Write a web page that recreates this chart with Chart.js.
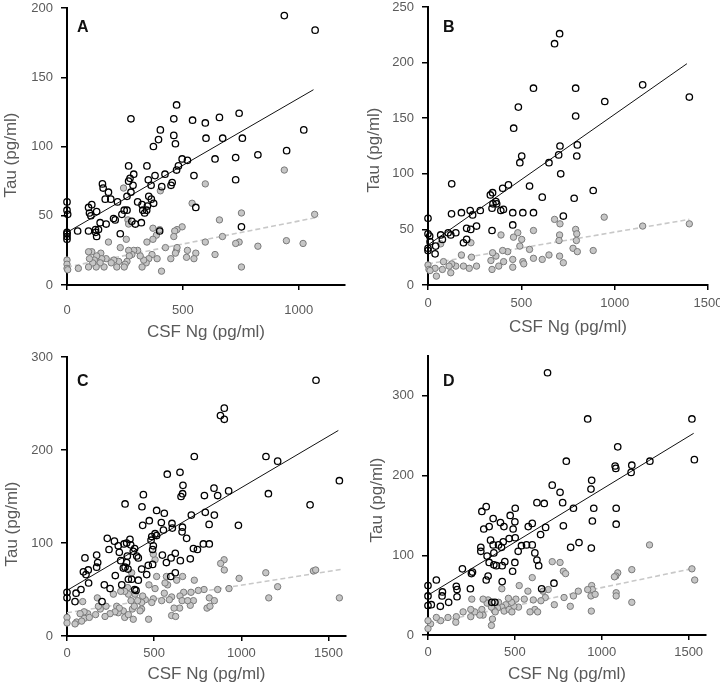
<!DOCTYPE html>
<html lang="en">
<head>
<meta charset="UTF-8">
<title>Tau vs CSF Ng</title>
<script src="https://cdn.jsdelivr.net/npm/chart.js@4.4.0/dist/chart.umd.min.js"></script>
<style>
    body { margin: 0; background: #fff; }
    .grid { display: grid; grid-template-columns: 360px 360px; grid-template-rows: 343px 343px; width: 720px; }
    canvas { display: block; }
</style>
</head>
<body>
<div class="grid">
    <canvas id="chartA" width="360" height="343"></canvas>
    <canvas id="chartB" width="360" height="343"></canvas>
    <canvas id="chartC" width="360" height="343"></canvas>
    <canvas id="chartD" width="360" height="343"></canvas>
</div>
<script>
    // [CSF Ng, Tau] pairs
    const aOpen = [[938,194.5],[1071,184],[1022,112],[948,97],[824,94],[728,92],[728,76],[753,42],[757,106],[743,124],
        [658,121],[672,106],[639,91],[597,117],[600,106],[542,119],[548,79],[556,56],[473,130],[461,120],[461,108],[468,102],
        [497,91],[520,90],[481,86],[473,83],[454,74],[449,72],[403,112],[395,105],[373,100],[423,80],[409,71],[400,39],
        [380,79],[351,76],[345,86],[363,72],[364,62],[374,59],[353,64],[347,57],[344,54],[335,52],[321,45],[305,60],
        [324,58],[327,54],[288,80],[285,72],[276,67],[266,86],[276,120],[272,77],[266,75],[259,64],[259,54],[280,46],
        [295,44],[247,54],[237,51],[230,37],[218,60],[201,48],[208,47],[189,62],[179,67],[165,62],[169,44],[153,73],
        [156,70],[143,45],[128,53],[124,38],[128,35],[123,40],[136,40],[107,58],[93,56],[97,52],[103,50],[93,39],[46,39],
        [0,60],[0,54],[3,51],[0,38],[0,35],[0,33],[0,37]];
    const aFilled = [[938,83],[1069,51],[1019,30],[947,32],[824,28],[753,52],[743,31],[728,30],[753,13],[671,35],[658,47],
        [639,22],[597,73],[597,31],[556,23],[548,19],[540,59],[520,25],[516,20],[497,42],[475,40],[465,39],[461,35],[473,25],
        [475,27],[448,19],[468,23],[403,68],[400,40],[386,36],[371,33],[371,41],[345,31],[425,27],[408,10],[389,19],[367,22],
        [353,19],[342,16],[324,13],[331,18],[316,21],[305,25],[288,25],[280,22],[266,25],[269,21],[259,17],[251,15],[247,13],
        [263,47],[244,70],[266,44],[256,33],[230,27],[223,17],[215,13],[202,18],[191,16],[179,31],[169,19],[160,13],[146,23],
        [150,19],[143,16],[128,21],[126,13],[118,18],[111,16],[107,24],[97,19],[93,13],[93,24],[49,12],[0,18],[0,15],[0,12],[3,11]];
    const aFitOpen = [[0,38],[1064,141]];
    const aFitFilled = [[0,13],[1085,49]];

    const bOpen = [[705,226],[678,217],[1150,180],[791,177],[565,177],[1400,169],[947,165],[484,160],[791,152],[459,141],
        [707,125],[800,126],[700,117],[797,116],[502,116],[492,110],[648,110],[711,100],[127,91],[431,90],[544,89],[885,85],
        [400,87],[334,81],[346,83],[364,75],[368,73],[612,79],[783,78],[404,68],[390,67],[343,69],[348,73],[280,67],[226,67],
        [179,65],[126,64],[239,63],[260,53],[454,65],[508,65],[565,65],[725,62],[454,54],[343,49],[207,51],[229,50],[190,38],
        [207,41],[149,47],[108,47],[122,45],[68,45],[77,41],[41,35],[38,28],[0,60],[0,46],[9,44],[11,39],[0,33],[0,31]];
    const bFilled = [[1400,55],[1150,53],[944,61],[885,31],[678,59],[707,55],[791,50],[797,46],[705,45],[702,40],[795,40],
        [777,33],[800,30],[705,26],[725,20],[648,27],[612,23],[565,24],[565,49],[544,32],[502,41],[492,35],[481,47],[458,43],
        [454,23],[454,16],[508,21],[513,19],[427,30],[391,45],[400,31],[405,21],[379,17],[364,26],[337,22],[343,14],[346,29],
        [260,17],[233,25],[230,38],[221,15],[190,17],[179,27],[149,17],[127,19],[122,11],[113,17],[83,21],[77,14],[68,37],
        [45,8],[38,15],[0,18],[5,14],[11,13]];
    const bFitOpen = [[0,36],[1387,199]];
    const bFitFilled = [[0,19],[1400,59]];

    const cOpen = [[1428,275],[902,245],[880,237],[902,233],[1141,193],[730,193],[1208,188],[1562,167],[648,176],[575,174],
        [1155,153],[665,162],[654,150],[663,153],[843,159],[788,151],[864,151],[927,156],[438,152],[333,142],[430,139],[1394,141],
        [514,135],[558,132],[713,130],[793,133],[845,130],[472,124],[434,119],[541,122],[602,121],[815,120],[662,117],[660,112],
        [604,116],[553,114],[983,119],[686,105],[505,110],[486,107],[514,108],[482,103],[495,97],[491,93],[547,87],[621,89],
        [597,84],[570,79],[650,81],[707,83],[725,94],[748,93],[782,99],[816,99],[621,68],[595,64],[466,76],[491,77],[428,72],
        [457,66],[361,104],[365,98],[380,91],[388,94],[400,86],[409,84],[342,100],[327,99],[294,97],[300,90],[272,102],[308,81],
        [346,86],[342,79],[333,74],[323,73],[350,72],[352,61],[371,61],[388,50],[396,49],[409,60],[314,55],[231,105],[241,93],
        [170,87],[176,79],[170,74],[103,84],[122,71],[109,66],[124,57],[94,69],[80,50],[247,51],[214,55],[277,65],[201,37],
        [52,46],[46,37],[0,47],[0,41]];
    const cFilled = [[1413,70],[1426,71],[1140,68],[1208,53],[1157,41],[1562,41],[987,62],[929,51],[901,82],[902,71],[881,78],
        [864,50],[786,50],[753,49],[711,47],[725,38],[707,33],[816,41],[845,38],[803,30],[820,32],[730,60],[663,64],[669,47],
        [648,43],[660,38],[646,30],[692,38],[629,60],[577,55],[600,42],[587,39],[558,46],[543,38],[562,57],[570,64],[600,22],
        [623,21],[614,30],[505,82],[495,88],[514,64],[505,51],[495,40],[486,36],[470,55],[449,39],[434,43],[428,36],[428,29],
        [468,18],[419,27],[405,38],[390,45],[367,38],[375,29],[386,32],[352,45],[348,52],[371,68],[331,48],[308,48],[323,27],
        [294,25],[285,32],[300,30],[275,26],[266,45],[331,20],[352,23],[380,18],[247,24],[218,21],[224,32],[191,29],[174,41],
        [180,32],[164,23],[119,24],[99,19],[98,26],[128,20],[75,24],[55,15],[84,16],[90,37],[46,13],[0,20],[0,14]];
    const cFitOpen = [[0,49],[1556,221]];
    const cFitFilled = [[0,25],[1585,72]];

    const dOpen = [[688,329],[919,271],[1519,271],[1533,220],[1277,218],[796,218],[1092,236],[1173,213],[1169,204],[1077,212],
        [1081,209],[942,194],[938,183],[715,188],[760,179],[775,166],[627,166],[669,165],[837,159],[954,159],[1083,159],[946,143],
        [1083,139],[779,137],[869,116],[821,110],[940,109],[677,135],[648,126],[600,140],[577,136],[335,161],[310,155],[321,133],
        [352,136],[375,146],[417,141],[437,136],[473,150],[490,133],[502,159],[500,142],[467,121],[502,122],[433,117],[423,110],
        [406,113],[375,113],[360,119],[352,91],[340,99],[379,103],[379,88],[394,87],[427,87],[442,92],[487,80],[500,91],[538,112],
        [519,105],[567,113],[600,113],[615,103],[627,94],[637,87],[654,58],[725,65],[256,79],[250,77],[304,110],[304,105],[335,69],
        [346,74],[427,67],[385,41],[367,41],[198,83],[163,61],[167,57],[167,48],[244,58],[119,41],[83,54],[81,49],[71,36],[48,69],
        [0,62],[0,49],[0,37],[19,38]];
    const dFilled = [[1275,113],[1519,83],[1535,69],[1173,82],[1092,78],[1081,74],[1073,73],[1083,53],[1083,49],[1173,41],[942,62],
        [946,57],[938,49],[962,51],[919,57],[940,30],[865,55],[837,49],[819,36],[783,47],[779,80],[792,77],[760,91],[715,92],[727,38],
        [692,57],[675,47],[650,43],[662,55],[615,32],[631,29],[587,29],[606,44],[600,72],[575,55],[554,45],[525,62],[521,35],[506,45],
        [494,36],[481,41],[463,46],[448,38],[425,35],[425,58],[406,41],[400,34],[438,30],[467,32],[483,29],[381,31],[365,35],[346,44],
        [340,40],[317,45],[310,32],[317,25],[298,25],[269,29],[252,45],[246,32],[246,23],[365,12],[387,29],[371,20],[202,29],[163,23],
        [160,16],[115,22],[73,18],[48,22],[15,14],[0,18],[0,8]];
    const dFitOpen = [[0,50],[1529,253]];
    const dFitFilled = [[0,14],[1538,84]];

    const xTicksA = [0, 500, 1000];
    const xTicksBCD = [0, 500, 1000, 1500];
    const yTicksA = [0, 50, 100, 150, 200];
    const yTicksB = [0, 50, 100, 150, 200, 250];
    const yTicksC = [0, 100, 200, 300];
    const yTicksD = [0, 100, 200, 300];

    const X_TITLE = 'CSF Ng (pg/ml)';
    const Y_TITLE = 'Tau (pg/ml)';
    const GREY_TEXT = '#5a5a5a';
    const FONT = '"Liberation Sans", Arial, sans-serif';

    const toPoints = arr => arr.map(p => ({x: p[0], y: p[1]}));

    // panel letter and rotated y title, drawn by hand so they can sit exactly
    const panelText = {
        id: 'panelText',
        afterDraw(chart, args, o) {
            const ctx = chart.ctx;
            ctx.save();
            ctx.fillStyle = '#111';
            ctx.font = 'bold 16px ' + FONT;
            ctx.textBaseline = 'alphabetic';
            ctx.fillText(o.letter, o.lx, o.ly);
            ctx.translate(o.tx, o.ty);
            ctx.rotate(-Math.PI / 2);
            ctx.fillStyle = GREY_TEXT;
            ctx.font = '17px ' + FONT;
            ctx.textAlign = 'center';
            ctx.textBaseline = 'middle';
            ctx.fillText(Y_TITLE, 0, 0);
            ctx.restore();
        }
    };

    function drawPanel(id, p) {
        new Chart(document.getElementById(id), {
            type: 'scatter',
            data: {
                datasets: [
                    {data: toPoints(p.open), pointRadius: 3.2, borderWidth: 1.3, borderColor: '#000',
                        backgroundColor: 'rgba(255,255,255,0)', clip: false},
                    {data: toPoints(p.fitOpen), showLine: true, pointRadius: 0, borderColor: '#111', borderWidth: 1},
                    {data: toPoints(p.filled), pointRadius: 3.2, borderWidth: 1, borderColor: '#7a7a7a',
                        backgroundColor: '#c6c6c6', clip: false},
                    {data: toPoints(p.fitFilled), showLine: true, pointRadius: 0, borderColor: '#c8c8c8',
                        borderWidth: 1.6, borderDash: [5, 3]}
                ]
            },
            options: {
                responsive: false,
                animation: false,
                events: [],
                layout: {padding: {top: p.top, right: p.right, left: 0, bottom: 0}},
                plugins: {
                    legend: {display: false},
                    tooltip: {enabled: false},
                    panelText: p.text
                },
                scales: {
                    x: {
                        type: 'linear', min: 0, max: p.xMax,
                        afterBuildTicks: s => { s.ticks = p.xTicks.map(v => ({value: v})); },
                        afterFit: s => { s.height = p.xHeight; s.paddingLeft = 0; s.paddingRight = 0; },
                        border: {color: '#000', width: 2},
                        grid: {drawOnChartArea: false, drawTicks: true, tickLength: 5, color: '#000', lineWidth: 1.5},
                        ticks: {color: GREY_TEXT, font: {family: FONT, size: 13}, padding: p.xPad, maxRotation: 0,
                            callback: v => String(v)},
                        title: {display: true, text: X_TITLE, color: GREY_TEXT, font: {family: FONT, size: 17},
                            padding: {top: 0, bottom: p.titlePad}}
                    },
                    y: {
                        type: 'linear', min: 0, max: p.yMax,
                        afterBuildTicks: s => { s.ticks = p.yTicks.map(v => ({value: v})); },
                        afterFit: s => { s.width = p.yWidth; s.paddingTop = 0; s.paddingBottom = 0; },
                        border: {color: '#000', width: 2},
                        grid: {drawOnChartArea: false, drawTicks: true, tickLength: 6, color: '#000', lineWidth: 1.5},
                        ticks: {color: GREY_TEXT, font: {family: FONT, size: 13}, padding: 8, callback: v => String(v)}
                    }
                }
            },
            plugins: [panelText]
        });
    }

    drawPanel('chartA', {open: aOpen, filled: aFilled, fitOpen: aFitOpen, fitFilled: aFitFilled,
        xMax: 1200, yMax: 200, xTicks: xTicksA, yTicks: yTicksA, top: 8, right: 15, xHeight: 58, yWidth: 67,
        xPad: 13, titlePad: 0, text: {letter: 'A', lx: 77, ly: 32, tx: 11, ty: 155}});
    drawPanel('chartB', {open: bOpen, filled: bFilled, fitOpen: bFitOpen, fitFilled: bFitFilled,
        xMax: 1500, yMax: 250, xTicks: xTicksBCD, yTicks: yTicksB, top: 7, right: 12, xHeight: 58, yWidth: 68,
        xPad: 6, titlePad: 5, text: {letter: 'B', lx: 83, ly: 32, tx: 14, ty: 150}});
    drawPanel('chartC', {open: cOpen, filled: cFilled, fitOpen: cFitOpen, fitFilled: cFitFilled,
        xMax: 1600, yMax: 300, xTicks: xTicksBCD, yTicks: yTicksC, top: 14, right: 14, xHeight: 50, yWidth: 67,
        xPad: 5, titlePad: 1, text: {letter: 'C', lx: 77, ly: 43, tx: 12, ty: 181}});
    drawPanel('chartD', {open: dOpen, filled: dFilled, fitOpen: dFitOpen, fitFilled: dFitFilled,
        xMax: 1600, yMax: 350, xTicks: xTicksBCD, yTicks: yTicksD, top: 13, right: 14, xHeight: 51, yWidth: 68,
        xPad: 5, titlePad: 1, text: {letter: 'D', lx: 83, ly: 43, tx: 17, ty: 157}});
</script>
</body>
</html>
